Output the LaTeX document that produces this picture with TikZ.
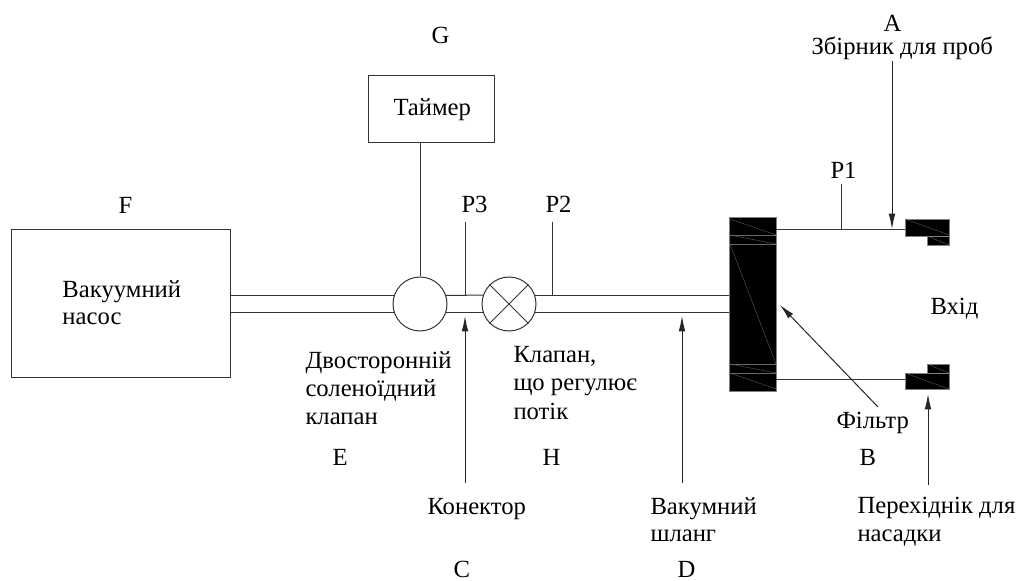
\documentclass[tikz,border=0pt]{standalone}
\usepackage{fontspec}
\setmainfont{Liberation Serif}
\usetikzlibrary{arrows.meta}

\begin{document}
\begin{tikzpicture}[x=0.75pt, y=-0.75pt, line width=0.75pt]
    \useasboundingbox (0, 0) rectangle (1018, 581);

    \tikzstyle{lbl} = [anchor=base west, inner sep=0pt, font=\fontsize{18.5}{22}\selectfont, align=left, text=black]
    \tikzstyle{box} = [draw=black!80, rectangle, inner sep=0pt]
    \tikzstyle{round} = [draw=black!80, circle, inner sep=0pt, minimum size=40.5pt]
    \tikzstyle{solid} = [draw=black!50, fill=black, rectangle, inner sep=0pt, line width=0.5pt]
    \tikzstyle{hatch} = [draw=black!60, line width=0.25pt]
    \tikzstyle{wire} = [draw=black!80]
    \tikzstyle{pointer} = [draw=black!85, -{Latex[length=11.5pt, width=5pt]}]

    % pump, timer and the black parts
    \node[box, minimum width=164.25pt, minimum height=110.25pt] (pump) at (120.5, 303.5) {};
    \node[box, minimum width=94.5pt, minimum height=50.25pt] (timer) at (431, 109.5) {};
    \node[solid, minimum width=35.25pt, minimum height=130.5pt] (filter) at (752.5, 304) {};
    \node[round] (solenoid) at (420, 304) {};
    \node[round] (valve) at (509, 304) {};

    % adapters at the two inlets
    \node[solid, minimum width=33pt, minimum height=12.75pt] (upperA) at (927, 227.5) {};
    \node[solid, minimum width=16.5pt, minimum height=6.75pt] (upperB) at (938, 240.5) {};
    \node[solid, minimum width=33pt, minimum height=12pt] (lowerA) at (927, 381) {};
    \node[solid, minimum width=16.5pt, minimum height=6.75pt] (lowerB) at (938, 368.5) {};

    % thin lines on the black parts
    \foreach \xa/\ya/\xb/\yb in {730/219/776/235, 730/235/776/244, 730/244/776/364, 730/364/776/373, 730/373/776/389, 905/219/949/235, 927/236/949/245, 905/373/949/389, 927/364/949/373} {
        \draw[hatch] (\xa, \ya) -- (\xb, \yb);
    }
    \foreach \ya in {235, 244, 364, 373} {
        \draw[hatch] (730, \ya) -- (776, \ya);
    }

    % double pipe between the parts
    \foreach \w/\e in {161.7/18.3, 198.3/-18.3} {
        \draw[wire] (pump.east |- solenoid.\w) -- (solenoid.\w);
        \draw[wire] (solenoid.\e) -- (valve.\w);
        \draw[wire] (valve.\e) -- (filter.west |- valve.\e);
    }
    \draw[wire] (valve.45) -- (valve.225);
    \draw[wire] (valve.135) -- (valve.315);
    \draw[wire] (timer.south -| solenoid.north) -- (solenoid.north);

    % lines from the filter to the adapters
    \coordinate (portUp) at (905, 230);
    \coordinate (portDown) at (905, 379);
    \draw[wire] (filter.east |- portUp) -- (portUp);
    \draw[wire] (filter.east |- portDown) -- (portDown);

    % pressure taps
    \coordinate (tapOne) at (841, 184);
    \coordinate (tapTwo) at (552, 222);
    \coordinate (tapThree) at (465, 222);
    \draw[wire] (tapOne) -- (tapOne |- portUp);
    \draw[wire] (tapTwo) -- (tapTwo |- valve.18.3);
    \draw[wire] (tapThree) -- (tapThree |- valve.161.7);

    % arrows from the labels
    \coordinate (tailA) at (892, 61);
    \coordinate (headA) at (892, 229);
    \coordinate (tailC) at (465, 483);
    \coordinate (headC) at (465, 316);
    \coordinate (tailD) at (682, 483);
    \coordinate (headD) at (682, 316);
    \coordinate (tailF) at (878, 407);
    \coordinate (headF) at (780, 305);
    \coordinate (tailB) at (928, 485);
    \coordinate (headB) at (928, 394);
    \draw[pointer] (tailA) -- (headA);
    \draw[pointer] (tailC) -- (headC);
    \draw[pointer] (tailD) -- (headD);
    \draw[pointer] (tailF) -- (headF);
    \draw[pointer] (tailB) -- (headB);

    % labels
    \node[lbl] (textPump) at (62, 297) {Вакуумний};
    \node[lbl] (textPumpTwo) at (62, 325) {насос};
    \node[lbl] (textTimer) at (393, 116) {Таймер};
    \node[lbl] (textA) at (883, 32) {A};
    \node[lbl] (textCup) at (811, 55) {Збірник для проб};
    \node[lbl] (textG) at (431, 44) {G};
    \node[lbl] (textF) at (118, 214) {F};
    \node[lbl] (textPOne) at (830, 179) {P1};
    \node[lbl] (textPTwo) at (545, 213) {P2};
    \node[lbl] (textPThree) at (461, 213) {P3};
    \node[lbl] (textIn) at (930, 314) {Вхід};
    \node[lbl] (textSol) at (305, 368) {Двосторонній};
    \node[lbl] (textSolTwo) at (305, 396) {соленоїдний};
    \node[lbl] (textSolThree) at (305, 424) {клапан};
    \node[lbl] (textVal) at (513, 362) {Клапан,};
    \node[lbl] (textValTwo) at (513, 390) {що регулює};
    \node[lbl] (textValThree) at (513, 419) {потік};
    \node[lbl] (textE) at (332, 465) {E};
    \node[lbl] (textH) at (542, 465) {H};
    \node[lbl] (textB) at (859, 465) {B};
    \node[lbl] (textFilter) at (836, 428) {Фільтр};
    \node[lbl] (textCon) at (427, 514) {Конектор};
    \node[lbl] (textHose) at (650, 514) {Вакумний};
    \node[lbl] (textHoseTwo) at (650, 541) {шланг};
    \node[lbl] (textAd) at (857, 513) {Перехіднік для};
    \node[lbl] (textAdTwo) at (857, 541) {насадки};
    \node[lbl] (textC) at (453, 577) {C};
    \node[lbl] (textD) at (677, 577) {D};

\end{tikzpicture}
\end{document}
